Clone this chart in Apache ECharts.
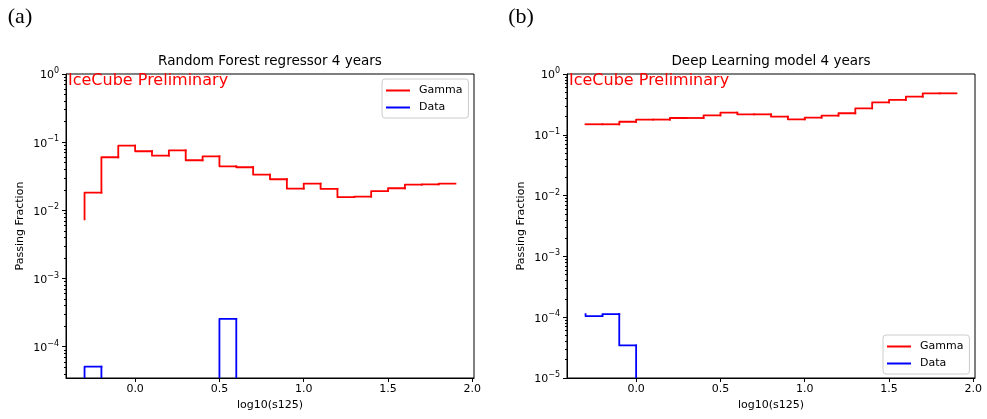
<!DOCTYPE html>
<html>
<head>
<meta charset="utf-8">
<title>Passing fraction</title>
<script src="https://cdn.jsdelivr.net/npm/echarts@6/dist/echarts.min.js"></script>
<style>
  html, body { margin: 0; padding: 0; background: #fff; }
  #chart { width: 987px; height: 419px; }
</style>
</head>
<body>
<div id="chart"></div>
<script>
// step points on log10(s125); value i is drawn over (edges[i-1], edges[i]), value 0 starts the line
const edges = [-0.3, -0.2, -0.1, 0.0, 0.1, 0.2, 0.3, 0.4, 0.5, 0.6, 0.7, 0.8,
  0.9, 1.0, 1.1, 1.2, 1.3, 1.4, 1.5, 1.6, 1.7, 1.8, 1.9];

// (a) Random Forest regressor
const rfGamma = [0.0074, 0.0182, 0.0601, 0.0889, 0.0736, 0.0634, 0.0760, 0.0543,
  0.0621, 0.0443, 0.0429, 0.0334, 0.0286, 0.0208, 0.0247, 0.0206, 0.0156, 0.0159,
  0.0192, 0.0211, 0.0238, 0.0241, 0.0247];
const rfData = [0, 5.1e-5, 0, 0, 0, 0, 0, 0, 0, 2.56e-4, 0, 0,
  0, 0, 0, 0, 0, 0, 0, 0, 0, 0, 0];

// (b) Deep Learning model
const dlGamma = [0.149, 0.149, 0.149, 0.164, 0.178, 0.178, 0.189, 0.189, 0.209,
  0.232, 0.217, 0.217, 0.199, 0.180, 0.191, 0.207, 0.226, 0.273, 0.342, 0.374,
  0.424, 0.481, 0.481];
const dlData = [1.125e-4, 1.044e-4, 1.125e-4, 3.43e-5, 0, 0, 0, 0, 0, 0, 0, 0,
  0, 0, 0, 0, 0, 0, 0, 0, 0, 0, 0];

const xTicks = [0.0, 0.5, 1.0, 1.5, 2.0];
const rfYTicks = [1e-4, 1e-3, 1e-2, 1e-1, 1];
const dlYTicks = [1e-5, 1e-4, 1e-3, 1e-2, 1e-1, 1];

const FONT = 'DejaVu Sans';
const RED = '#ff0000';
const BLUE = '#0000ff';
const X_MIN = -0.41, X_MAX = 2.01;
const RF_YMIN = Math.pow(10, -4.459), DL_YMIN = 1e-5;

// empty bins sit far below the axis, like matplotlib clipping on a log scale
const FLOOR = 1e-12;
const pos = v => (v > 0 ? v : FLOOR);

// one item per bin: [x start, previous value, x end, value]
function steps(vals) {
  const out = [];
  for (let i = 1; i < edges.length; i++) {
    out.push([edges[i - 1], pos(vals[i - 1]), edges[i], pos(vals[i])]);
  }
  return out;
}

// 2..9 x 10^n minor ticks inside [lo, hi]
function minors(lo, hi) {
  const out = [];
  for (let e = Math.floor(Math.log10(lo)); e < Math.log10(hi); e++) {
    for (let k = 2; k <= 9; k++) {
      const v = k * Math.pow(10, e);
      if (v >= lo && v <= hi) out.push(v);
    }
  }
  return out;
}

const black = { color: '#000', width: 1 };

function xAxis(gridIndex) {
  return {
    type: 'value', gridIndex: gridIndex, min: X_MIN, max: X_MAX,
    name: 'log10(s125)', nameLocation: 'middle', nameGap: 22,
    nameTextStyle: { fontFamily: FONT, fontSize: 11, color: '#000' },
    axisLine: { show: true, onZero: false, lineStyle: black },
    axisTick: { show: true, customValues: xTicks, length: 4, lineStyle: black },
    axisLabel: {
      customValues: xTicks, margin: 6, color: '#000', fontFamily: FONT, fontSize: 11,
      formatter: v => v.toFixed(1)
    },
    splitLine: { show: false }
  };
}

function yAxis(gridIndex, lo, ticks) {
  return {
    type: 'log', logBase: 10, gridIndex: gridIndex, position: 'left', min: lo, max: 1,
    name: 'Passing Fraction', nameLocation: 'middle', nameGap: 40,
    nameTextStyle: { fontFamily: FONT, fontSize: 11, color: '#000' },
    axisLine: { show: true, onZero: false, lineStyle: black },
    axisTick: { show: true, customValues: ticks, length: 4, lineStyle: black },
    axisLabel: {
      customValues: ticks, margin: 7,
      formatter: v => '{b|10}{s|' + String(Math.round(Math.log10(v))).replace('-', '\u2212') + '}',
      rich: {
        b: { fontFamily: FONT, fontSize: 11, color: '#000', lineHeight: 14, verticalAlign: 'bottom' },
        s: { fontFamily: FONT, fontSize: 8, color: '#000', lineHeight: 9, verticalAlign: 'top' }
      }
    },
    splitLine: { show: false }
  };
}

// overlaid axis that only carries the minor ticks
function minorAxis(gridIndex, lo) {
  return {
    type: 'log', logBase: 10, gridIndex: gridIndex, position: 'left', min: lo, max: 1,
    axisLine: { show: false, onZero: false },
    axisTick: { show: true, customValues: minors(lo, 1), length: 2, lineStyle: black },
    axisLabel: { show: false },
    splitLine: { show: false }
  };
}

// matplotlib-style "steps-pre" line: vertical at the bin start, then across the bin
function stepLine(name, color, xi, yi, vals) {
  return {
    name: name, type: 'custom', xAxisIndex: xi, yAxisIndex: yi, clip: true,
    itemStyle: { color: color },
    encode: { x: [0, 2], y: [1, 3] },
    data: steps(vals),
    renderItem: function (params, api) {
      const a = api.coord([api.value(0), api.value(1)]);
      const b = api.coord([api.value(0), api.value(3)]);
      const c = api.coord([api.value(2), api.value(3)]);
      return {
        type: 'polyline',
        shape: { points: [a, b, c] },
        style: { stroke: color, lineWidth: 1.8, fill: null, lineJoin: 'round', lineCap: 'square' }
      };
    }
  };
}

function legend(left, top) {
  return {
    data: ['Gamma', 'Data'], orient: 'vertical', left: left, top: top,
    icon: 'rect', itemWidth: 24, itemHeight: 2, itemGap: 6,
    itemStyle: { borderWidth: 0 },
    padding: [6, 6, 5, 4], borderColor: '#cccccc', borderWidth: 1, borderRadius: 3,
    backgroundColor: 'rgba(255,255,255,0.8)', selectedMode: false,
    textStyle: { fontFamily: FONT, fontSize: 11, color: '#000', padding: [0, 0, 0, 4] }
  };
}

function label(x, y, text, font, color, align) {
  return {
    type: 'text', x: x, y: y, silent: true,
    style: { text: text, font: font, fill: color, align: align, verticalAlign: 'middle' }
  };
}

const chart = echarts.init(document.getElementById('chart'), null, { renderer: 'canvas' });

chart.setOption({
  animation: false,
  backgroundColor: '#fff',
  grid: [
    { left: 66, top: 74, width: 408, height: 304, show: true, borderColor: '#000', borderWidth: 1, containLabel: false },
    { left: 567, top: 74, width: 408, height: 304, show: true, borderColor: '#000', borderWidth: 1, containLabel: false }
  ],
  xAxis: [xAxis(0), xAxis(1)],
  yAxis: [yAxis(0, RF_YMIN, rfYTicks), minorAxis(0, RF_YMIN), yAxis(1, DL_YMIN, dlYTicks), minorAxis(1, DL_YMIN)],
  legend: [legend(382, 79), legend(883, 335)],
  series: [
    stepLine('Gamma', RED, 0, 0, rfGamma),
    stepLine('Data', BLUE, 0, 0, rfData),
    stepLine('Gamma', RED, 1, 2, dlGamma),
    stepLine('Data', BLUE, 1, 2, dlData)
  ],
  graphic: [
    label(20, 17, '(a)', '22px "Liberation Serif"', '#000', 'center'),
    label(521, 17, '(b)', '22px "Liberation Serif"', '#000', 'center'),
    label(270, 61, 'Random Forest regressor 4 years', '13.5px "DejaVu Sans"', '#000', 'center'),
    label(771, 61, 'Deep Learning model 4 years', '13.5px "DejaVu Sans"', '#000', 'center'),
    label(68, 80.5, 'IceCube Preliminary', '16px "DejaVu Sans"', RED, 'left'),
    label(569, 80.5, 'IceCube Preliminary', '16px "DejaVu Sans"', RED, 'left')
  ]
});
</script>
</body>
</html>
